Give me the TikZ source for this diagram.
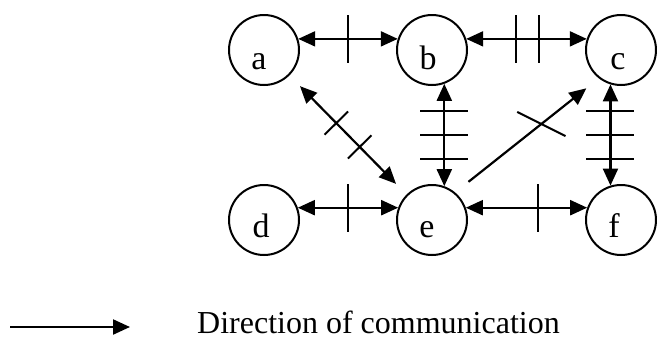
\documentclass[tikz,border=0pt]{standalone}
\usepackage{fontspec}
\setmainfont{Liberation Serif}
\usetikzlibrary{arrows.meta,decorations.markings,calc}
\newcommand\mytick{\draw[tickmark] (0pt,-24pt) -- (0pt,24pt);}
\tikzset{
  agent/.style={circle, draw, line width=2pt, minimum size=70pt, inner sep=0pt},
  lbl/.style={anchor=base, inner sep=0pt, font=\fontsize{34}{38}\selectfont},
  conn/.style={line width=2.2pt, -{Triangle[length=17pt,width=15pt]}},
  both/.style={line width=2.2pt, {Triangle[length=17pt,width=15pt]}-{Triangle[length=17pt,width=15pt]}},
  tickmark/.style={-, line width=2pt, shorten <=0pt, shorten >=0pt},
}
\begin{document}
\begin{tikzpicture}[x=1pt,y=-1pt]
\useasboundingbox (0,0) rectangle (657,338);
% agents
\node[agent] (a) at (264,50) {};
\node[agent] (b) at (432,50) {};
\node[agent] (c) at (621,50) {};
\node[agent] (d) at (264,220) {};
\node[agent] (e) at (432,220) {};
\node[agent] (f) at (621,220) {};
\node[lbl] (ta) at ($(a)+(-5,19)$) {a};
\node[lbl] (tb) at ($(b)+(-4,19)$) {b};
\node[lbl] (tc) at ($(c)+(-3,19)$) {c};
\node[lbl] (td) at ($(d)+(-3,17)$) {d};
\node[lbl] (te) at ($(e)+(-5,17)$) {e};
\node[lbl] (tf) at ($(f)+(-7,17)$) {f};
% connectors
\draw[both, postaction={decorate, decoration={markings,
  mark=at position 0.5 with {\mytick}}}] (a.18) -- (b.162);
\draw[both, postaction={decorate, decoration={markings,
  mark=at position 0.413 with {\mytick},
  mark=at position 0.604 with {\mytick}}}] (b.18) -- (c.162);
\draw[both, postaction={decorate, decoration={markings,
  mark=at position 0.5 with {\mytick}}}] (d.20) -- (e.160);
\draw[both, postaction={decorate, decoration={markings,
  mark=at position 0.598 with {\mytick}}}] (e.20) -- (f.160);
\draw[both, postaction={decorate, decoration={markings,
  mark=at position 0.265 with {\mytick},
  mark=at position 0.5 with {\mytick},
  mark=at position 0.735 with {\mytick}}}] (b.-70.5) -- (e.70.5);
\draw[both, postaction={decorate, decoration={markings,
  mark=at position 0.265 with {\mytick},
  mark=at position 0.5 with {\mytick},
  mark=at position 0.735 with {\mytick}}}] (c.-107) -- (f.107);
\draw[both, shorten <=15pt, shorten >=15pt, postaction={decorate, decoration={markings,
  mark=at position 0.4 with {\draw[tickmark] (0pt,-16.5pt) -- (0pt,16.5pt);},
  mark=at position 0.6 with {\draw[tickmark] (0pt,-16.5pt) -- (0pt,16.5pt);}}}] (a.-45) -- (e.135);
\draw[conn, shorten <=17pt, shorten >=16pt, postaction={decorate, decoration={markings,
  mark=at position 0.6 with {\draw[tickmark] (-11.4pt,24.5pt) -- (11.4pt,-24.5pt);}}}] (e.50) -- (c.232);
% legend
\coordinate (l1) at (10,327);
\coordinate (l2) at (130,327);
\draw[conn] (l1) -- (l2);
\node[anchor=base west, inner sep=0pt, font=\fontsize{32}{36}\selectfont] (leg) at (197,333) {Direction of communication};
\end{tikzpicture}
\end{document}
